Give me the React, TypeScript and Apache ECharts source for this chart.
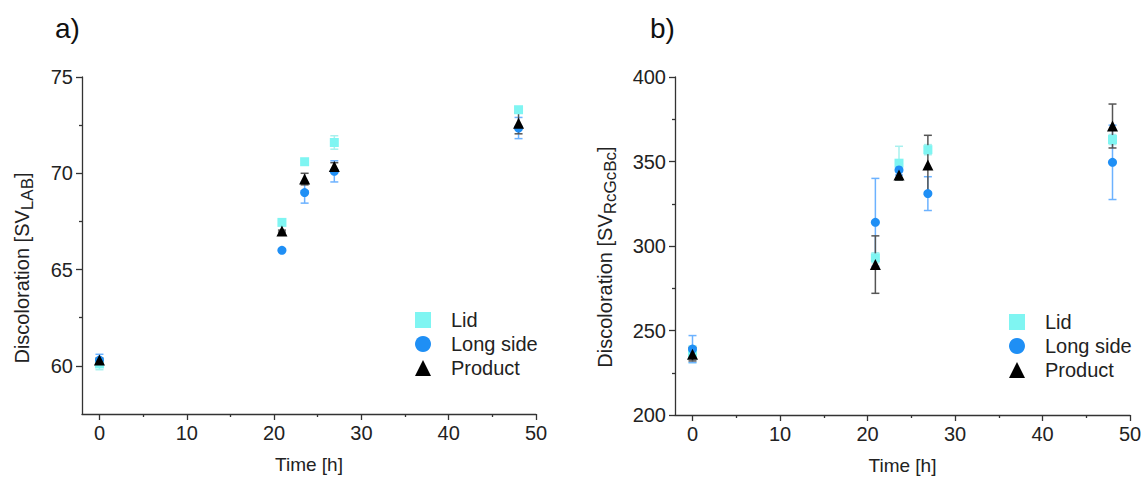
import React, { useEffect, useRef } from "react";
import * as echarts from "echarts";

// ---------- data ----------
const xTicks = [0, 10, 20, 30, 40, 50];
const xMinorTicks = [5, 15, 25, 35, 45];
const yTicksA = [60, 65, 70, 75];
const yMinorA = [62.5, 67.5, 72.5];
const yTicksB = [200, 250, 300, 350, 400];
const yMinorB = [225, 275, 325, 375];

const timeA = [0, 20.9, 23.5, 26.9, 48];
const lidA = [60.1, 67.45, 70.6, 71.6, 73.3];
const lidAErr = [0.3, 0.1, 0.1, 0.35, 0.1];
const longA = [60.3, 66.0, 69.0, 70.1, 72.35];
const longAErr = [0.3, 0.05, 0.55, 0.55, 0.55];
const prodA = [60.3, 67.0, 69.7, 70.35, 72.6];
const prodAErr = [0.1, 0.05, 0.3, 0.2, 0.55];

const timeB = [0, 20.9, 23.6, 26.9, 48];
const lidB = [236, 293, 349, 357, 363];
const lidBErr = [5, 3, 10, 3, 3];
const longB = [239, 314, 345, 331, 349.5];
const longBErr = [8, 26, 3, 10, 22];
const prodB = [236, 289, 342, 348, 371];
const prodBErr = [4, 17, 3, 17.5, 13];

const LID = "#7ff5f2";
const LONG = "#1f8ff5";
const PROD = "#000000";
const LID_ERR = "#a8f0ee";
const LONG_ERR = "#6cb2ff";
const PROD_ERR = "#555555";

const FONT = "Liberation Sans";
const FS = 20;

function errSeries(name: string, xs: number[], ys: number[], es: number[], color: string, gi: number) {
  return {
    type: "custom",
    name,
    xAxisIndex: gi * 2,
    yAxisIndex: gi * 2,
    silent: true,
    z: 1,
    data: xs.map((x, i) => [x, ys[i] - es[i], ys[i] + es[i]]),
    renderItem: (_p: any, api: any) => {
      const x = api.value(0);
      const lo = api.coord([x, api.value(1)]);
      const hi = api.coord([x, api.value(2)]);
      const w = 4;
      const st = { stroke: color, lineWidth: 1.5 };
      return {
        type: "group",
        children: [
          { type: "line", shape: { x1: lo[0], y1: lo[1], x2: hi[0], y2: hi[1] }, style: st },
          { type: "line", shape: { x1: lo[0] - w, y1: lo[1], x2: lo[0] + w, y2: lo[1] }, style: st },
          { type: "line", shape: { x1: hi[0] - w, y1: hi[1], x2: hi[0] + w, y2: hi[1] }, style: st },
        ],
      };
    },
  };
}

function scatter(name: string, xs: number[], ys: number[], symbol: string, size: number, color: string, gi: number) {
  return {
    type: "scatter",
    name,
    xAxisIndex: gi * 2,
    yAxisIndex: gi * 2,
    symbol,
    symbolSize: size,
    itemStyle: { color, opacity: 1 },
    z: 3,
    data: xs.map((x, i) => [x, ys[i]]),
  };
}

const axisLineStyle = { color: "#333", width: 1.3 };

function xAxes(gi: number) {
  return [
    {
      type: "value",
      gridIndex: gi,
      position: "bottom",
      min: -2,
      max: 50,
      splitLine: { show: false },
      axisLine: { show: true, onZero: false, lineStyle: axisLineStyle },
      axisTick: { show: true, length: 6, lineStyle: axisLineStyle, customValues: xTicks },
      axisLabel: { customValues: xTicks, fontFamily: FONT, fontSize: FS, color: "#222", margin: 9 },
      name: "Time [h]",
      nameLocation: "middle",
      nameGap: 41,
      nameTextStyle: { fontFamily: FONT, fontSize: 19, color: "#222" },
    },
    {
      type: "value",
      gridIndex: gi,
      position: "bottom",
      min: -2,
      max: 50,
      splitLine: { show: false },
      axisLine: { show: false, onZero: false },
      axisTick: { show: true, length: 3, lineStyle: axisLineStyle, customValues: xMinorTicks },
      axisLabel: { show: false },
    },
  ];
}

function yAxes(gi: number, min: number, max: number, ticks: number[], minor: number[]) {
  return [
    {
      type: "value",
      gridIndex: gi,
      position: "left",
      min,
      max,
      splitLine: { show: false },
      axisLine: { show: true, onZero: false, lineStyle: axisLineStyle },
      axisTick: { show: true, length: 6, lineStyle: axisLineStyle, customValues: ticks },
      axisLabel: { customValues: ticks, fontFamily: FONT, fontSize: FS, color: "#222", margin: 9 },
    },
    {
      type: "value",
      gridIndex: gi,
      position: "left",
      min,
      max,
      splitLine: { show: false },
      axisLine: { show: false, onZero: false },
      axisTick: { show: true, length: 3, lineStyle: axisLineStyle, customValues: minor },
      axisLabel: { show: false },
    },
  ];
}

function yName(x: number, y: number, sub: string) {
  return {
    type: "text",
    x,
    y,
    rotation: Math.PI / 2,
    silent: true,
    style: {
      text: "{a|Discoloration [SV}{s|" + sub + "}{a|]}",
      align: "center",
      verticalAlign: "middle",
      fontFamily: FONT,
      fontSize: 20,
      fill: "#222",
      rich: {
        a: { fontFamily: FONT, fontSize: 20, fill: "#222", lineHeight: 28 },
        s: { fontFamily: FONT, fontSize: 17, fill: "#222", lineHeight: 28, verticalAlign: "bottom" },
      },
    },
  };
}

function legend(left: number, top: number) {
  return {
    orient: "vertical",
    left,
    top,
    padding: 0,
    itemWidth: 16,
    itemHeight: 16,
    itemGap: 4,
    textStyle: { fontFamily: FONT, fontSize: FS, color: "#222", lineHeight: 16, padding: [0, 0, 0, 15] },
    data: [
      { name: "Lid", icon: "rect" },
      { name: "Long side", icon: "circle" },
      { name: "Product", icon: "triangle" },
    ],
  };
}

export default function App() {
  const ref = useRef<HTMLDivElement>(null);
  useEffect(() => {
    document.body.style.margin = "0";
    document.body.style.overflow = "hidden";
    if (!ref.current) return;
    const chart = echarts.init(ref.current, undefined, { renderer: "svg" });
    chart.setOption({
      animation: false,
      backgroundColor: "#ffffff",
      title: [
        { text: "a)", left: 55, top: 14, padding: 0, textStyle: { fontFamily: FONT, fontSize: 28, fontWeight: "normal", color: "#111" } },
        { text: "b)", left: 650, top: 14, padding: 0, textStyle: { fontFamily: FONT, fontSize: 28, fontWeight: "normal", color: "#111" } },
      ],
      grid: [
        { left: 82, top: 77, width: 454, height: 337, outerBoundsMode: "none", containLabel: false },
        { left: 675, top: 77, width: 455, height: 338, outerBoundsMode: "none", containLabel: false },
      ],
      xAxis: [...xAxes(0), ...xAxes(1)],
      yAxis: [...yAxes(0, 57.5, 75, yTicksA, yMinorA), ...yAxes(1, 200, 400, yTicksB, yMinorB)],
      graphic: [yName(22, 268, "LAB"), yName(605, 257, "RcGcBc")],
      legend: [legend(415, 310), legend(1009, 312)],
      series: [
        errSeries("Lid err", timeA, lidA, lidAErr, LID_ERR, 0),
        errSeries("Long err", timeA, longA, longAErr, LONG_ERR, 0),
        errSeries("Product err", timeA, prodA, prodAErr, PROD_ERR, 0),
        scatter("Lid", timeA, lidA, "rect", 9, LID, 0),
        scatter("Long side", timeA, longA, "circle", 9, LONG, 0),
        scatter("Product", timeA, prodA, "triangle", 11, PROD, 0),
        errSeries("Lid err", timeB, lidB, lidBErr, LID_ERR, 1),
        errSeries("Long err", timeB, longB, longBErr, LONG_ERR, 1),
        errSeries("Product err", timeB, prodB, prodBErr, PROD_ERR, 1),
        scatter("Lid", timeB, lidB, "rect", 9, LID, 1),
        scatter("Long side", timeB, longB, "circle", 9, LONG, 1),
        scatter("Product", timeB, prodB, "triangle", 11, PROD, 1),
      ],
    });
    return () => chart.dispose();
  }, []);
  return <div ref={ref} style={{ width: 1145, height: 478 }} />;
}
